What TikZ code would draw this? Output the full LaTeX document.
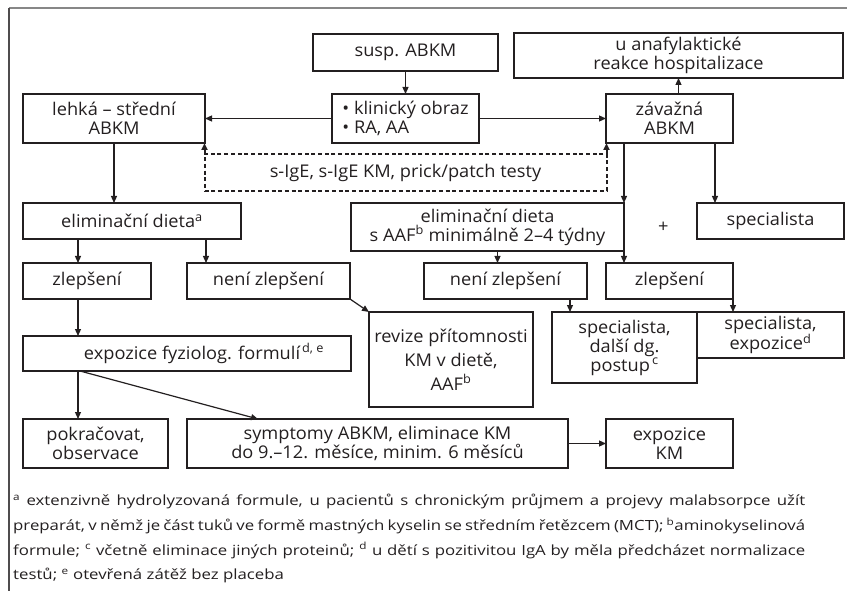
\documentclass[tikz,border=0pt]{standalone}
\usepackage{fontspec}
\setmainfont{Open Sans}[FakeStretch=1.04]
\newfontfamily\notefont{Open Sans}[FakeStretch=1.2]
\usetikzlibrary{arrows.meta,positioning}
\definecolor{inkdark}{RGB}{35,31,32}
\definecolor{framegray}{RGB}{135,135,135}
\newcommand{\fullline}[1]{\makebox[792pt][s]{#1}}

\begin{document}
\begin{tikzpicture}[
  x=1pt, y=1pt,
  font=\fontsize{17.5}{19}\selectfont,
  box/.style={draw=inkdark, line width=2pt, align=center, inner sep=1pt, outer sep=0pt, text=inkdark},
  dashbox/.style={box, dash pattern=on 4pt off 2.7pt},
  arr/.style={-{Triangle[length=7pt,width=6pt]}, line width=1.2pt, draw=inkdark},
  dasharr/.style={arr, line width=2pt, dash pattern=on 4pt off 2.7pt},
  frame/.style={line width=1.6pt}
]
\useasboundingbox (0,0) rectangle (847,-591);
\draw[frame, draw=framegray] (9,-8) -- (847,-8);
\draw[frame, draw=inkdark!80] (9,-8) -- (9,-591);

% top row
\node[box, minimum width=185, minimum height=37] (susp) at (405.5,-52.5) {susp. ABKM};
\node[box, minimum width=147, minimum height=49, align=left, below=23pt of susp] (klin) {\textbullet\ klinický obraz\\\textbullet\ RA, AA};
\node[box, minimum width=182, minimum height=49, left=127pt of klin] (lehka) {lehká – střední\\ABKM};
\node[box, minimum width=127, minimum height=49, right=127pt of klin] (zav) {závažná\\ABKM};
\node[box, minimum width=329, minimum height=45, above=16pt of zav, xshift=9pt, font=\fontsize{17.5}{16.5}\selectfont] (anaf) {u anafylaktické\\reakce hospitalizace};
\node[dashbox, minimum width=402, minimum height=37, below=11pt of klin] (tests) {s-IgE, s-IgE KM, prick/patch testy};

% diets
\node[box, minimum width=218, minimum height=36, below=60pt of lehka.south west, anchor=north west] (elimA) {eliminační dieta\textsuperscript{a}};
\node[box, minimum width=273, minimum height=48, right=110pt of elimA.north east, anchor=north west] (elimB) {eliminační dieta\\s AAF\textsuperscript{b} minimálně 2–4 týdny};
\node[text=inkdark, inner sep=0pt, right=34pt of elimB] (plus) {+};
\node[box, minimum width=147, minimum height=36, right=73pt of elimB.north east, anchor=north west] (specA) {specialista};

% outcomes
\node[box, minimum width=128, minimum height=36, below=24pt of elimA.south west, anchor=north west] (zlepA) {zlepšení};
\node[box, minimum width=163, minimum height=36, right=36pt of zlepA] (nenA) {není zlepšení};
\node[box, minimum width=163, minimum height=36, right=74pt of nenA] (nenB) {není zlepšení};
\node[box, minimum width=127, minimum height=36, right=19pt of nenB] (zlepB) {zlepšení};
\node[box, minimum width=328, minimum height=35, below=37pt of zlepA.south west, anchor=north west] (expo) {\hspace*{34pt}expozice fyziolog. formulí\textsuperscript{\,d, e}};
\node[box, minimum width=164, minimum height=95, below right=13pt and 19pt of nenA.south east, font=\fontsize{17.5}{24}\selectfont] (revize) {revize přítomnosti\\KM v dietě,\\AAF\textsuperscript{b}};
\node[box, minimum width=145, minimum height=71, right=19pt of revize.north east, anchor=north west] (specB) {specialista,\\další dg.\\postup\textsuperscript{\,c}};
\node[box, minimum width=147, minimum height=46, right=0pt of specB.north east, anchor=north west] (specC) {specialista,\\expozice\textsuperscript{d}};

% bottom row
\node[box, minimum width=145, minimum height=49, below=48pt of expo.south west, anchor=north west] (pokr) {pokračovat,\\observace};
\node[box, minimum width=381, minimum height=49, right=19pt of pokr] (sympt) {symptomy ABKM, eliminace KM\\do 9.–12. měsíce, minim. 6 měsíců};
\node[box, minimum width=127, minimum height=49, right=38pt of sympt] (expKM) {expozice\\KM};

% footnotes
\node[inner sep=0pt, align=left, text=inkdark, font=\notefont\fontsize{14}{24.7}\selectfont, below=26pt of pokr.south west, anchor=north west, xshift=-10pt] (notes) {%
\fullline{\textsuperscript{a} extenzivně hydrolyzovaná formule, u pacientů s chronickým průjmem a projevy malabsorpce užít}\\
\fullline{preparát, v němž je část tuků ve formě mastných kyselin se středním řetězcem (MCT); \textsuperscript{b}aminokyselinová}\\
\fullline{formule; \textsuperscript{c} včetně eliminace jiných proteinů; \textsuperscript{d} u dětí s pozitivitou IgA by měla předcházet normalizace}\\
testů; \textsuperscript{e} otevřená zátěž bez placeba};

% connectors
\draw[arr] (susp) -- (klin);
\draw[arr] (klin) -- (lehka);
\draw[arr] (klin) -- (zav);
\draw[arr] (zav.north -| anaf.south) -- (anaf.south);
\draw[dasharr] (tests.north west) -- (tests.north west |- lehka.south);
\draw[dasharr] (tests.north east) -- (tests.north east |- zav.south);
\draw[arr] (lehka.south) -- (lehka.south |- elimA.north);
\draw[arr] (elimB.north east |- zav.south) -- (elimB.north east);
\draw[arr] ([xshift=-18pt]zav.south east) -- ([xshift=-18pt]zav.south east |- specA.north);
\draw[arr] ([xshift=55pt]elimA.south west) -- ([xshift=55pt]elimA.south west |- zlepA.north);
\draw[arr] ([xshift=-35pt]elimA.south east) -- ([xshift=-35pt]elimA.south east |- nenA.north);
\draw[arr] ([xshift=10pt]elimB.south) -- ([xshift=10pt]elimB.south |- nenB.north);
\draw[arr] (elimB.south east) -- (elimB.south east |- zlepB.north);
\draw[arr] ([xshift=55pt]zlepA.south west) -- ([xshift=55pt]zlepA.south west |- expo.north);
\draw[arr] (nenA.south east) -- (revize.north west);
\draw[arr] ([xshift=-17pt]nenB.south east) -- ([xshift=-17pt]nenB.south east |- specB.north);
\draw[arr] (zlepB.south east) -- (zlepB.south east |- specC.north);
\draw[arr] ([xshift=55pt]expo.south west) -- ([xshift=55pt]expo.south west |- pokr.north);
\draw[arr] ([xshift=57pt]expo.south west) -- ([xshift=71pt]sympt.north west);
\draw[arr] (sympt) -- (expKM);
\end{tikzpicture}
\end{document}
